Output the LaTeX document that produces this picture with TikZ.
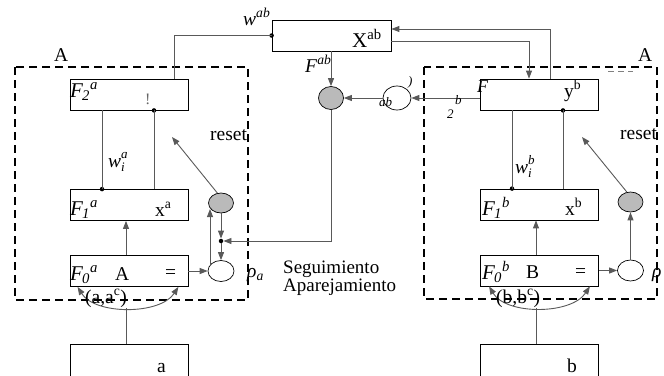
\documentclass[tikz,border=0pt]{standalone}
\usepackage{fontspec}
\setmainfont{Liberation Serif}
\usetikzlibrary{shapes.geometric,arrows.meta}
\newcommand{\fsz}[1]{\fontsize{#1}{#1}\selectfont}
\newcommand{\Flab}[2]{\textit{F}\kern-1pt\textsubscript{\textit{#1}}\textsuperscript{\textit{#2}}}
\newcommand{\wlab}[1]{\textit{w}\raisebox{-4pt}{\fsz{13}\itshape\shortstack[l]{#1\\[1pt]i}}}
\begin{document}
\begin{tikzpicture}[x=1pt,y=-1pt,
 box/.style={draw, line width=0.8pt, minimum width=118pt, minimum height=31pt, inner sep=0pt},
 conn/.style={draw=black!65, line width=0.9pt},
 arr/.style={conn, -{Triangle[length=8pt,width=6pt]}},
 dbl/.style={conn, {Triangle[length=8pt,width=6pt]}-{Triangle[length=8pt,width=6pt]}},
 dot/.style={circle, fill=black, inner sep=0pt, minimum size=4.5pt},
 gcirc/.style={ellipse, draw, fill=black!27, line width=0.7pt, minimum width=25pt, minimum height=20pt, inner sep=0pt},
 wcirc/.style={ellipse, draw, fill=white, line width=0.7pt, minimum width=26pt, minimum height=21pt, inner sep=0pt},
 dbox/.style={draw, line width=2.3pt, dash pattern=on 8pt off 5pt},
 lbl/.style={inner sep=0pt, anchor=base west, font=\fsz{19.5}},
 flbl/.style={inner sep=0pt, anchor=base west, font=\fsz{21}},
 small/.style={inner sep=0pt, anchor=base west, font=\fsz{13}\itshape},
]
\useasboundingbox (0,0) rectangle (664,375);

% dashed frames
\draw[dbox] (15,67) rectangle (248,300);
\draw[dbox] (424,67) rectangle (657,299);
\draw[draw=black!50, line width=0.8pt, dash pattern=on 6pt off 4pt] (608,71) -- (633,71);

% boxes
\node[box] (F2a) at (129,94.5) {};
\node[box] (F1a) at (129,205) {};
\node[box] (F0a) at (129,271) {};
\node[box, minimum height=50pt, anchor=north] (Ia) at (129,344) {};
\node[box, minimum width=119pt] (Xab) at (331.5,35.5) {};
\node[box] (F2b) at (539.5,94.5) {};
\node[box] (F1b) at (539.5,204.5) {};
\node[box] (F0b) at (539.5,270.5) {};
\node[box, minimum height=50pt, anchor=north] (Ib) at (539.5,344) {};

% circles
\node[gcirc] (ga) at (221,203) {};
\node[wcirc] (wa) at (221,271) {};
\node[gcirc, minimum height=23pt] (gab) at (331,98) {};
\node[wcirc, minimum width=28pt, minimum height=24pt] (wab) at (397,98) {};
\node[gcirc] (gb) at (630.5,202) {};
\node[wcirc] (wb) at (630.5,270.5) {};

% dots
\node[dot] (dXa) at (Xab.west) {};
\node[dot] (d2a) at ([xshift=25pt]F2a.south) {};
\node[dot] (d1a) at ([xshift=-27pt]F1a.north) {};
\node[dot] (dma) at (221,241) {};
\node[dot] (d2b) at ([xshift=23.5pt]F2b.south) {};
\node[dot] (d1b) at ([xshift=-27.5pt]F1b.north) {};

% reset targets and arc ends
\coordinate (ra) at (172,137);
\coordinate (rb) at (582,137);
\coordinate (aL) at ([xshift=8pt]F0a.south west);
\coordinate (aR) at ([xshift=-10pt]F0a.south east);
\coordinate (bL) at ([xshift=9pt]F0b.south west);
\coordinate (bR) at ([xshift=-9pt]F0b.south east);

% connectors, module a
\draw[conn] (dXa.center) -| ([xshift=45pt]F2a.north);
\draw[conn] (d1a.center) -- (d1a.center |- F2a.south);
\draw[conn] (d2a.center) -- (d2a.center |- F1a.north);
\draw[arr] ([xshift=-3pt]F0a.north) -- ([xshift=-3pt]F1a.south);
\draw[arr] (F0a.east) -- (wa.west);
\draw[arr] ([xshift=-11pt,yshift=5pt]wa.center) -- ([xshift=-11pt,yshift=-6pt]ga.center);
\draw[arr] (ga.south) -- (dma);
\draw[arr] (dma) -- (wa.north);
\draw[arr] (ga.110) -- (ra);
\draw[dbl] (aL) .. controls (95,315) and (160,315) .. (aR);
\draw[conn] ([xshift=-3pt]Ia.north) -- ([xshift=-3pt]Ia.north |- 0,308);

% connectors, centre
\draw[arr] (gab |- Xab.south) -- (gab.north);
\draw[arr] (gab.south) |- (dma);
\draw[arr] (wab.west) -- (gab.east);
\draw[arr] (F2b.west |- wab.east) -- (wab.east);
\draw[arr] ([xshift=10.5pt]F2b.north) |- ([yshift=6.5pt]Xab.east);
\draw[arr] ([yshift=-5.5pt]Xab.east) -| ([xshift=-10.5pt]F2b.north);

% connectors, module b
\draw[conn] (d1b.center) -- (d1b.center |- F2b.south);
\draw[conn] (d2b.center) -- (d2b.center |- F1b.north);
\draw[arr] ([xshift=-3.5pt]F0b.north) -- ([xshift=-3.5pt]F1b.south);
\draw[arr] (F0b.east) -- (wb.west);
\draw[arr] (wb.north) -- (gb.south);
\draw[arr] (gb.110) -- (rb);
\draw[dbl] (bL) .. controls (506,315) and (571,315) .. (bR);
\draw[conn] ([xshift=-3.5pt]Ib.north) -- ([xshift=-3.5pt]Ib.north |- 0,308);

% labels, module a
\node[lbl] (lAa) at (54,61) {A};
\node[flbl] (tF2a) at (70,97) {\Flab{2}{a}};
\node[inner sep=0pt, anchor=base west, font=\fsz{16}, text=black!60] (excl) at (145,104) {!};
\node[flbl] (tF1a) at (70,215) {\Flab{1}{a}};
\node[lbl] (txa) at (155,216) {x\textsuperscript{a}};
\node[flbl] (tF0a) at (70,280) {\Flab{0}{a}};
\node[lbl] (tA) at (115,280) {A};
\node[lbl] (teqa) at (165,278) {=};
\node[lbl] (wia) at (108,167) {\wlab{a}};
\node[lbl] (reseta) at (210,140) {reset};
\node[lbl] (rhoa) at (247,277) {\textit{ρ}\textsubscript{\textit{a}}};
\node[lbl] (aac) at (85,303) {(a,a\textsuperscript{c})};
\node[lbl] (ta) at (157,372) {a};

% labels, centre
\node[lbl] (wab) at (243,25) {\textit{w}\textsuperscript{\textit{ab}}};
\node[lbl] (Fab) at (305,72) {\textit{F}\textsuperscript{\textit{ab}}};
\node[flbl] (tXab) at (352,47) {X\textsuperscript{ab}};
\node[small] (tab) at (379,106) {ab};
\node[small] (tpar) at (408,85) {)};
\node[inner sep=0pt, anchor=north west, align=left, font=\fontsize{19}{15.5}\selectfont] (seg) at (283,261) {Seguimiento\\Aparejamiento};

% labels, module b
\node[lbl] (lAb) at (638,61) {A};
\node[small] (tb2) at (455,104) {b};
\node[small] (t22) at (447,118) {2};
\node[inner sep=0pt, anchor=base west, font=\fsz{18}\itshape] (tFb) at (477,92) {F};
\node[lbl] (tyb) at (564,97) {y\textsuperscript{b}};
\node[lbl] (wib) at (515,173) {\wlab{b}};
\node[lbl] (resetb) at (620,139) {reset};
\node[flbl] (tF1b) at (482,215) {\Flab{1}{b}};
\node[lbl] (txb) at (565,215) {x\textsuperscript{b}};
\node[flbl] (tF0b) at (482,279) {\Flab{0}{b}};
\node[lbl] (tB) at (526,278) {B};
\node[lbl] (teqb) at (575,277) {=};
\node[lbl] (rhob) at (652,277) {\textit{ρ}};
\node[lbl] (bbc) at (496,303) {(b,b\textsuperscript{c})};
\node[lbl] (tb) at (567,372) {b};
\end{tikzpicture}
\end{document}
